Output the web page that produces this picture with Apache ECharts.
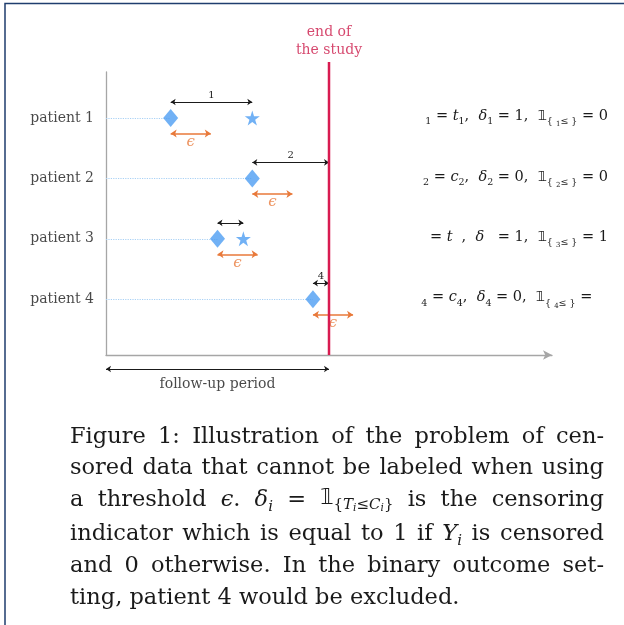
<!DOCTYPE html>
<html>
<head>
<meta charset="utf-8">
<script src="https://cdn.jsdelivr.net/npm/echarts@6/dist/echarts.min.js"></script>
<style>
  html, body { margin: 0; padding: 0; background: #fff; }
  #chart { width: 624px; height: 625px; }
</style>
</head>
<body>
<div id="chart"></div>
<script>
// data
const patientNames = ['patient 1', 'patient 2', 'patient 3', 'patient 4'];
const rows = [1, 2, 3, 4];
const entryTimes = [14.5, 32.8, 25.0, 46.4];   // diamonds
const eventTimes = [32.8, null, 30.8, null];   // stars (null = censored at study end)
const studyEnd = 50;
const epsilon = 9;
const gapLabels = ['1', '2', '', '4'];
// right-hand status text, base text = subscript size, {n|..} = normal size
const statusTexts = [
  '1{n| = }{ni|t}1{n|,  }{ni|δ}1{n| = 1,  }{bb|𝟙}{ {ss|1}≤ }{n| = 0}',
  '2{n| = }{ni|c}2{n|,  }{ni|δ}2{n| = 0,  }{bb|𝟙}{ {ss|2}≤ }{n| = 0}',
  '{n|= }{ni|t}   {n|,  }{ni|δ}   {n| = 1,  }{bb|𝟙}{ {ss|3}≤ }{n| = 1}',
  '4{n| = }{ni|c}4{n|,  }{ni|δ}4{n| = 0,  }{bb|𝟙}{ {ss|4}≤ }{n| = }'
];
const statusRight = [608, 608, 608, 597];
const captionLines = [
  ['Figure', '1:', 'Illustration', 'of', 'the', 'problem', 'of', 'cen-'],
  ['sored', 'data', 'that', 'cannot', 'be', 'labeled', 'when', 'using'],
  ['a', 'threshold', '{eps|ϵ}.', '{it|δ}{sub|i}', '=', {special: '{m|𝟙}{{it|T}{ss|i}≤{it|C}{ss|i}}'}, 'is', 'the', 'censoring'],
  ['indicator', 'which', 'is', 'equal', 'to', '1', 'if', '{it|Y}{sub|i}', 'is', 'censored'],
  ['and', '0', 'otherwise.', 'In', 'the', 'binary', 'outcome', 'set-'],
  ['ting,', 'patient', '4', 'would', 'be', 'excluded.']
];

const SERIF = '"DejaVu Serif", serif';
const BLUE = '#4d9ef2';
const ORANGE = '#e8793a';
const RED = '#d81b50';
const INK = '#1a1a1a';

// layout helpers (data units on the inverted y axis)
const yMin = 0.238, yMax = 4.924;
const upOff = -0.265, downOff = 0.257;
const starPath = 'path://M50,2 L61,36 L97,36 L68,57 L79,92 L50,71 L21,92 L32,57 L3,36 L39,36 Z';

const endTimes = rows.map((r, i) => eventTimes[i] == null ? studyEnd : eventTimes[i]);

const chart = echarts.init(document.getElementById('chart'));

const option = {
  animation: false,
  grid: { left: 106, right: 72, top: 72, bottom: 270, outerBoundsMode: 'none' },
  xAxis: {
    type: 'value', min: 0, max: 100,
    axisLine: { show: true, lineStyle: { color: '#a6a6a6', width: 1.3 }, symbol: ['none', 'arrow'], symbolSize: [7, 9] },
    axisTick: { show: false }, axisLabel: { show: false }, splitLine: { show: false }
  },
  yAxis: {
    type: 'value', inverse: true, min: yMin, max: yMax,
    axisLine: { show: true, lineStyle: { color: '#a6a6a6', width: 1.3 } },
    axisTick: { show: false }, axisLabel: { show: false }, splitLine: { show: false }
  },
  series: [
    {
      type: 'lines', coordinateSystem: 'cartesian2d', silent: true,
      lineStyle: { color: '#a9d1f5', type: 'dotted', width: 1.2, opacity: 1 },
      data: rows.map((r, i) => ({ coords: [[0, r], [entryTimes[i], r]] }))
    },
    {
      type: 'line', clip: false, symbol: 'none', silent: true,
      lineStyle: { color: RED, width: 2.5 },
      data: [[studyEnd, 0.072], [studyEnd, yMax]]
    },
    {
      type: 'lines', coordinateSystem: 'cartesian2d', silent: true,
      symbol: ['arrow', 'arrow'], symbolSize: 5,
      lineStyle: { color: INK, width: 1, opacity: 1 },
      label: {
        show: true, position: 'middle', distance: 2,
        formatter: p => gapLabels[p.dataIndex],
        color: INK, fontFamily: SERIF, fontSize: 10
      },
      data: rows.map((r, i) => ({ coords: [[entryTimes[i], r + upOff], [endTimes[i], r + upOff]] }))
    },
    {
      type: 'lines', coordinateSystem: 'cartesian2d', silent: true, clip: false,
      symbol: ['arrow', 'arrow'], symbolSize: 6,
      lineStyle: { color: ORANGE, width: 1.5, opacity: 1 },
      data: rows.map((r, i) => ({ coords: [[entryTimes[i], r + downOff], [entryTimes[i] + epsilon, r + downOff]] }))
    },
    {
      type: 'scatter', symbolSize: 0, silent: true, clip: false,
      label: {
        show: true, position: 'bottom', distance: 1, formatter: 'ϵ',
        color: ORANGE, fontFamily: SERIF, fontStyle: 'italic', fontSize: 15
      },
      data: rows.map((r, i) => [entryTimes[i] + epsilon / 2, r + downOff])
    },
    {
      type: 'scatter', symbol: 'diamond', symbolSize: [15, 18], silent: true,
      itemStyle: { color: BLUE },
      data: rows.map((r, i) => [entryTimes[i], r])
    },
    {
      type: 'scatter', symbol: starPath, symbolSize: 15, silent: true,
      itemStyle: { color: BLUE },
      data: rows.map((r, i) => eventTimes[i] == null ? null : [eventTimes[i], r]).filter(d => d)
    },
    {
      type: 'scatter', symbolSize: 0, silent: true, clip: false,
      label: {
        show: true, position: 'left', distance: 12,
        formatter: p => patientNames[p.dataIndex],
        color: INK, fontFamily: SERIF, fontSize: 14
      },
      data: rows.map(r => [0, r])
    },
    {
      // follow-up period arrow
      type: 'lines', coordinateSystem: 'cartesian2d', silent: true, clip: false,
      symbol: ['arrow', 'arrow'], symbolSize: 5,
      lineStyle: { color: INK, width: 1, opacity: 1 },
      data: [{ coords: [[0, 5.156], [studyEnd, 5.156]] }]
    },
    {
      type: 'scatter', symbolSize: 0, silent: true, clip: false,
      label: {
        show: true, position: 'bottom', distance: 8, formatter: 'follow-up period',
        color: INK, fontFamily: SERIF, fontSize: 14
      },
      data: [[studyEnd / 2, 5.156]]
    },
    {
      type: 'scatter', symbolSize: 0, silent: true, clip: false,
      label: {
        show: true, position: 'top', distance: 3, formatter: 'end of\nthe study',
        color: '#cc1a4a', fontFamily: SERIF, fontSize: 14, lineHeight: 18
      },
      data: [[studyEnd, 0.072]]
    }
  ]
};
chart.setOption(option);

// ---- right hand status text
const statusRich = {
  n: { fontSize: 14.5, fontFamily: SERIF, lineHeight: 18, verticalAlign: 'top' },
  ni: { fontSize: 14.5, fontFamily: SERIF, fontStyle: 'italic', lineHeight: 18, verticalAlign: 'top' },
  bb: { fontSize: 14.5, fontFamily: '"DejaVu Sans"', lineHeight: 18, verticalAlign: 'top' },
  ss: { fontSize: 7, fontFamily: SERIF, padding: [5, 0, 0, 0] }
};
const graphics = [];
rows.forEach((r, i) => {
  const py = chart.convertToPixel({ gridIndex: 0 }, [0, r])[1];
  graphics.push({
    type: 'text', x: statusRight[i], y: py - 9, silent: true,
    style: {
      text: statusTexts[i], rich: statusRich, fill: INK,
      fontSize: 9.5, fontFamily: SERIF, lineHeight: 26,
      align: 'right', verticalAlign: 'top'
    }
  });
});

// ---- caption, justified word by word
const capSize = 22.5;
const capRich = {
  eps: { fontSize: capSize, fontFamily: SERIF, fontStyle: 'italic', lineHeight: 30 },
  it: { fontSize: capSize, fontFamily: SERIF, fontStyle: 'italic', lineHeight: 30 },
  sub: { fontSize: 15, fontFamily: SERIF, fontStyle: 'italic', padding: [14, 0, 0, 0] }
};
const specialRich = {
  m: { fontSize: 21, fontFamily: '"DejaVu Sans"', lineHeight: 30, verticalAlign: 'top', padding: [3, 0, 0, 0] },
  it: { fontSize: 15, fontFamily: SERIF, fontStyle: 'italic' },
  ss: { fontSize: 10.5, fontFamily: SERIF, fontStyle: 'italic', padding: [6, 0, 0, 0] }
};
function wordStyle(w) {
  if (typeof w === 'object') {
    return { text: w.special, rich: specialRich, fontSize: 15, fontFamily: SERIF, lineHeight: 40, fill: INK, align: 'left', verticalAlign: 'top' };
  }
  return { text: w, rich: capRich, fontSize: capSize, fontFamily: SERIF, lineHeight: 30, fill: INK, align: 'left', verticalAlign: 'top' };
}
function measure(style) {
  return new echarts.graphic.Text({ style: style }).getBoundingRect().width;
}
const capLeft = 70, capRight = 604;
const capCenters = [436, 467, 499, 533, 565, 597];
const spaceW = measure(wordStyle(' ')) || 6;
captionLines.forEach((words, li) => {
  const styles = words.map(wordStyle);
  const widths = styles.map(measure);
  const total = widths.reduce((a, b) => a + b, 0);
  const last = li === captionLines.length - 1;
  const gap = last ? spaceW : (capRight - capLeft - total) / (words.length - 1);
  let x = capLeft;
  styles.forEach((s, k) => {
    graphics.push({ type: 'text', x: x, y: capCenters[li] - 14, silent: true, style: s });
    x += widths[k] + gap;
  });
});

// page border (top and left)
graphics.push({
  type: 'polyline', silent: true,
  shape: { points: [[5, 625], [5, 3.5], [624, 3.5]] },
  style: { stroke: '#1f3d6e', lineWidth: 1.5, fill: null }
});

chart.setOption({ graphic: graphics });
</script>
</body>
</html>
